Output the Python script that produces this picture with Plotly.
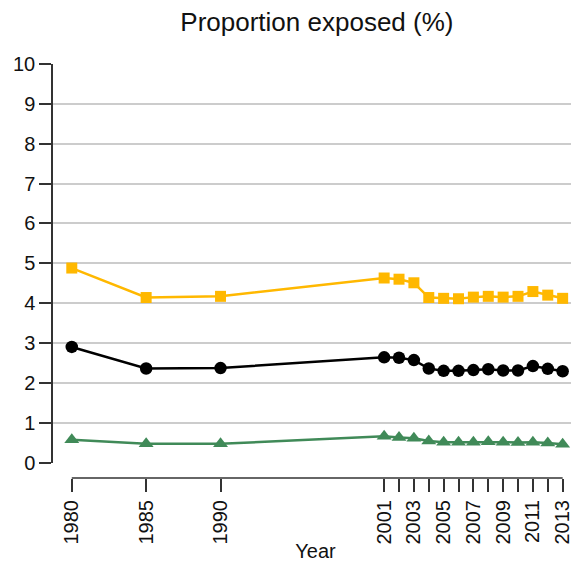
import plotly.graph_objects as go

years = [1980, 1985, 1990, 2001, 2002, 2003, 2004, 2005, 2006, 2007, 2008, 2009, 2010, 2011, 2012, 2013]
series_orange = [4.88, 4.14, 4.17, 4.63, 4.60, 4.51, 4.14, 4.12, 4.11, 4.15, 4.17, 4.15, 4.17, 4.29, 4.20, 4.12]
series_black = [2.90, 2.36, 2.37, 2.64, 2.63, 2.57, 2.36, 2.30, 2.30, 2.32, 2.34, 2.31, 2.31, 2.42, 2.35, 2.29]
series_green = [0.57, 0.47, 0.47, 0.66, 0.63, 0.61, 0.54, 0.51, 0.51, 0.51, 0.52, 0.51, 0.50, 0.51, 0.49, 0.46]

tick_years = [1980, 1985, 1990] + list(range(2001, 2014))
tick_text = [str(y) if (y < 2000 or y % 2 == 1) else "" for y in tick_years]
y_ticks = list(range(0, 11))

FONT = "Liberation Sans, Arial, sans-serif"
AX = "#333333"

fig = go.Figure()
fig.add_trace(go.Scatter(x=years, y=series_orange, mode="lines+markers",
                         line=dict(color="#FFB800", width=2.5),
                         marker=dict(symbol="square", size=11, color="#FFB800"),
                         cliponaxis=False, showlegend=False))
fig.add_trace(go.Scatter(x=years, y=series_black, mode="lines+markers",
                         line=dict(color="#000000", width=2.5),
                         marker=dict(symbol="circle", size=12.5, color="#000000"),
                         cliponaxis=False, showlegend=False))
fig.add_trace(go.Scatter(x=years, y=series_green, mode="lines+markers",
                         line=dict(color="#408A58", width=2.5),
                         marker=dict(symbol="triangle-up", size=13, color="#408A58"),
                         cliponaxis=False, showlegend=False))

# x axis baseline spanning first to last year
fig.add_shape(type="line", xref="x", yref="paper", x0=years[0], x1=years[-1], y0=0, y1=0,
              line=dict(color=AX, width=1.5))

fig.update_layout(
    width=571, height=561,
    margin=dict(l=44, r=0, t=56, b=91),
    paper_bgcolor="white", plot_bgcolor="white",
    font=dict(family=FONT, color="#111111", size=20),
    title=dict(text="Proportion exposed (%)", x=0.541, xanchor="center", y=0.975, yanchor="middle",
               font=dict(size=26, family=FONT, color="#111111")),
    xaxis=dict(range=[1978.67, 2014.1], anchor="free", position=0,
               showgrid=False, zeroline=False, showline=False,
               tickmode="array", tickvals=tick_years, ticktext=tick_text,
               ticks="outside", ticklen=13, tickwidth=1.5, tickcolor=AX,
               tickangle=-90, tickfont=dict(size=20),
               title=dict(text="Year", font=dict(size=20), standoff=0)),
    yaxis=dict(range=[0, 10], domain=[0.0374, 1], anchor="free", position=0,
               tickmode="array", tickvals=y_ticks,
               showgrid=True, gridcolor="#cccccc", gridwidth=1.5,
               zeroline=False, showline=True, linecolor=AX, linewidth=1.5,
               ticks="outside", ticklen=12, tickwidth=1.5, tickcolor=AX,
               tickfont=dict(size=20)),
)

fig.write_html("out.html")
